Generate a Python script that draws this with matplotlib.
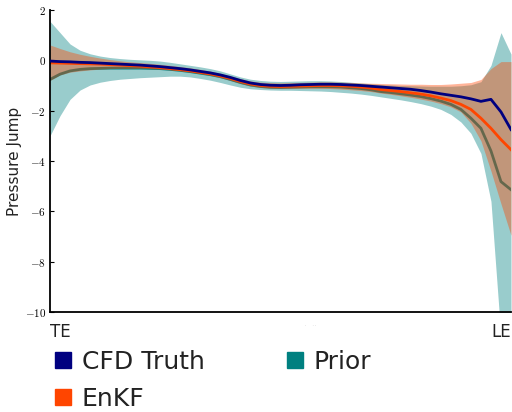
"""
 pressure jump along the chord: truth vs prior vs EnKF
"""
import matplotlib
matplotlib.use('Agg')
import matplotlib.pyplot as plt
from matplotlib.patches import Patch
import numpy as np

plt.rcParams['mathtext.fontset'] = 'cm'

# 沿弦向的点 (TE -> LE)
n_pts = 47
xs = np.arange(n_pts)

truth = [-0.03, -0.05, -0.06, -0.08, -0.09, -0.11, -0.13, -0.15, -0.17, -0.19,
         -0.22, -0.25, -0.29, -0.33, -0.38, -0.44, -0.50, -0.58, -0.68, -0.80,
         -0.90, -0.96, -0.99, -1.00, -0.99, -0.97, -0.96, -0.95, -0.95, -0.96,
         -0.98, -1.00, -1.03, -1.06, -1.09, -1.12, -1.15, -1.20, -1.26, -1.33,
         -1.39, -1.45, -1.53, -1.63, -1.55, -2.05, -2.75]

enkf_mean = [-0.10, -0.11, -0.12, -0.13, -0.14, -0.15, -0.17, -0.19, -0.21, -0.23,
             -0.26, -0.29, -0.33, -0.37, -0.42, -0.48, -0.54, -0.62, -0.72, -0.84,
             -0.94, -1.00, -1.03, -1.04, -1.03, -1.02, -1.01, -1.00, -1.00, -1.01,
             -1.03, -1.06, -1.10, -1.16, -1.20, -1.24, -1.29, -1.34, -1.41, -1.50,
             -1.60, -1.75, -1.95, -2.30, -2.70, -3.15, -3.55]
enkf_lo = [-0.80, -0.58, -0.47, -0.42, -0.38, -0.35, -0.33, -0.32, -0.32, -0.32,
           -0.33, -0.35, -0.38, -0.42, -0.47, -0.53, -0.60, -0.69, -0.80, -0.92,
           -1.02, -1.08, -1.11, -1.12, -1.12, -1.11, -1.11, -1.11, -1.12, -1.14,
           -1.17, -1.20, -1.24, -1.30, -1.35, -1.41, -1.47, -1.54, -1.62, -1.72,
           -1.85, -2.05, -2.50, -3.20, -4.40, -5.70, -6.95]
enkf_hi = [0.61, 0.47, 0.34, 0.24, 0.16, 0.09, 0.03, -0.02, -0.06, -0.09,
           -0.12, -0.16, -0.20, -0.25, -0.30, -0.36, -0.43, -0.52, -0.62, -0.73,
           -0.82, -0.87, -0.89, -0.90, -0.89, -0.88, -0.87, -0.86, -0.86, -0.87,
           -0.88, -0.90, -0.91, -0.92, -0.93, -0.94, -0.95, -0.95, -0.96, -0.96,
           -0.94, -0.91, -0.88, -0.76, -0.33, -0.05, -0.05]

prior_mean = [-0.76, -0.55, -0.42, -0.36, -0.33, -0.32, -0.31, -0.31, -0.31, -0.31,
              -0.32, -0.33, -0.36, -0.40, -0.45, -0.51, -0.57, -0.65, -0.76, -0.88,
              -0.98, -1.04, -1.07, -1.08, -1.07, -1.06, -1.05, -1.05, -1.05, -1.06,
              -1.09, -1.12, -1.17, -1.24, -1.28, -1.33, -1.38, -1.44, -1.52, -1.62,
              -1.75, -1.95, -2.30, -2.70, -3.60, -4.82, -5.14]
prior_lo = [-3.00, -2.20, -1.55, -1.18, -0.98, -0.87, -0.80, -0.75, -0.72, -0.69,
            -0.67, -0.65, -0.63, -0.63, -0.66, -0.72, -0.79, -0.88, -0.98, -1.07,
            -1.13, -1.16, -1.18, -1.19, -1.19, -1.20, -1.21, -1.22, -1.24, -1.27,
            -1.30, -1.34, -1.39, -1.45, -1.51, -1.57, -1.64, -1.72, -1.82, -1.95,
            -2.15, -2.45, -2.90, -3.70, -5.60, -11.0, -12.0]
prior_hi = [1.55, 1.10, 0.65, 0.40, 0.26, 0.17, 0.11, 0.07, 0.04, 0.02,
            0.00, -0.03, -0.08, -0.14, -0.20, -0.26, -0.33, -0.42, -0.54, -0.66,
            -0.75, -0.80, -0.83, -0.84, -0.83, -0.82, -0.81, -0.81, -0.82, -0.84,
            -0.87, -0.90, -0.93, -0.96, -0.98, -1.00, -1.01, -1.02, -1.03, -1.03,
            -1.03, -1.01, -0.97, -0.85, -0.20, 1.10, 0.25]

x_ticks = [0, 26, n_pts - 1]
x_labels = ['TE', '.     . .', 'LE']
y_ticks = [2, 0, -2, -4, -6, -8, -10]

c_truth = 'navy'
c_enkf = 'orangered'
c_prior = 'teal'

fig = plt.figure(figsize=(5.12, 4.12), dpi=100)
ax = fig.add_axes([50/512, 100/412, 461/512, 302/412])

# 先画先验, 再画EnKF, 最后真值 (zorder决定叠加顺序)
ax.fill_between(xs, prior_lo, prior_hi, color=c_prior, alpha=0.4, lw=0, zorder=1)
ax.plot(xs, prior_mean, color=c_prior, lw=2, zorder=1.5)
ax.fill_between(xs, enkf_lo, enkf_hi, color=c_enkf, alpha=0.4, lw=0, zorder=2)
ax.plot(xs, enkf_mean, color=c_enkf, lw=2, zorder=2.5)
ax.plot(xs, truth, color=c_truth, lw=2, zorder=3)

ax.set_xlim(0, n_pts - 1)
ax.set_ylim(-10, 2)
ax.set_yticks(y_ticks)
ax.set_yticklabels([f'${v}$' for v in y_ticks])
ax.set_xticks(x_ticks)
ax.set_xticklabels(x_labels)
xl = ax.get_xticklabels()
for lab in xl:
    lab.set_fontsize(12)
    lab.set_color('#222222')
xl[0].set_ha('left')
xl[2].set_ha('right')
xl[1].set_fontsize(3)
xl[1].set_color('#999999')
ax.tick_params(axis='x', length=0, pad=8)
ax.tick_params(axis='y', direction='in', length=3, labelsize=8, pad=3)
ax.spines['top'].set_visible(False)
ax.spines['right'].set_visible(False)
ax.spines['left'].set_linewidth(1.3)
ax.spines['bottom'].set_linewidth(1.3)
ax.set_ylabel('Pressure Jump', fontsize=11, color='#222222', labelpad=2)

handles = [Patch(color=c_truth, label='CFD Truth'),
           Patch(color=c_enkf, label='EnKF'),
           Patch(color=c_prior, label='Prior')]
fig.legend(handles=handles, loc='upper left', bbox_to_anchor=(55/512, 1 - 350/412),
           ncol=2, frameon=False, fontsize=18, handlelength=0.62, handleheight=0.62,
           handletextpad=0.45, columnspacing=3.3, labelspacing=0.5,
           borderpad=0, borderaxespad=0, labelcolor='#222222')

fig.savefig('out.png', dpi=100)
plt.close()
